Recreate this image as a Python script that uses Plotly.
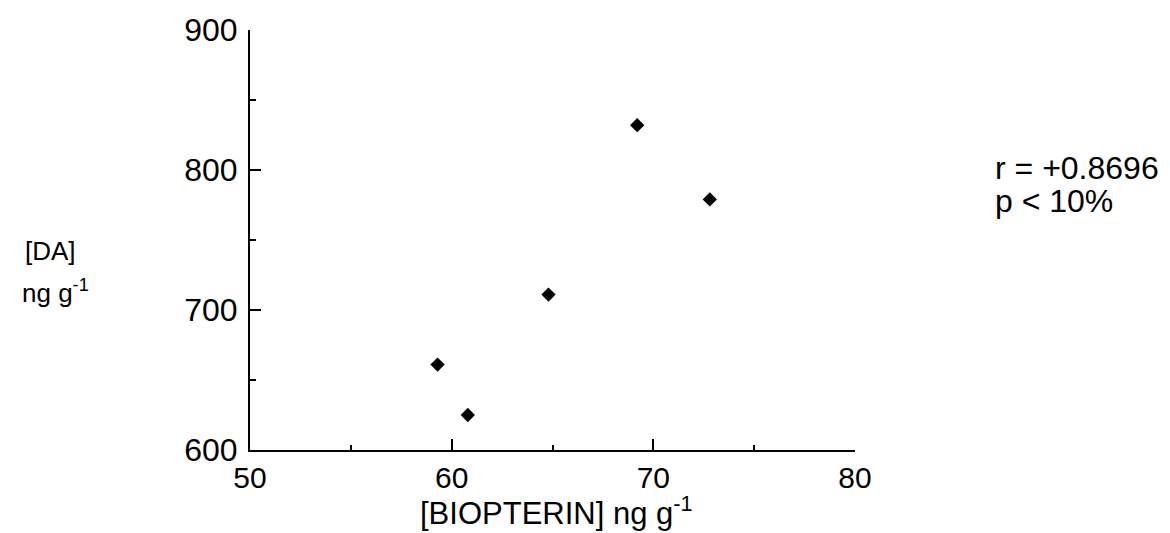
import plotly.graph_objects as go

biopterin = [69.2, 72.8, 64.8, 59.3, 60.8]
da = [832, 779, 711, 661, 625]

x_ticks = [50, 60, 70, 80]
y_ticks = [600, 700, 800, 900]

FONT = "Liberation Sans, Arial, sans-serif"

W, H = 1170, 533
PLOT_L, PLOT_R, PLOT_T, PLOT_B = 250, 855, 25, 450
L, T, R, B = PLOT_L, PLOT_T, W - PLOT_R, H - PLOT_B
pw, ph = W - L - R, H - T - B

fig = go.Figure()
fig.add_trace(go.Scatter(
    x=biopterin, y=da, mode="markers",
    marker=dict(symbol="diamond", size=11, color="black"),
    showlegend=False,
))

axis_common = dict(
    showline=True, linecolor="black", linewidth=2,
    showgrid=False, zeroline=False,
    ticks="inside", ticklen=11, tickwidth=2, tickcolor="black",
    ticklabeloverflow="allow",
)

fig.update_xaxes(
    range=[50, 80], tickvals=x_ticks, ticktext=[str(v) for v in x_ticks],
    minor=dict(ticks="inside", ticklen=5, tickwidth=2, tickcolor="black", dtick=5, tick0=50),
    ticklabelstandoff=0,
    tickfont=dict(family=FONT, size=30, color="black"),
    **axis_common,
)
fig.update_yaxes(
    range=[600, 900], tickvals=y_ticks, ticktext=[str(v) for v in y_ticks],
    minor=dict(ticks="inside", ticklen=6, tickwidth=2, tickcolor="black", dtick=50, tick0=600),
    ticklabelstandoff=4,
    tickfont=dict(family=FONT, size=32, color="black"),
    **axis_common,
)

# (text, page x, page y, anchor, font size)
annotations = [
    ("[BIOPTERIN] ng g<sup>-1</sup>", 556, 512, "center", 31),
    ("[DA]", 50, 249, "center", 26),
    ("ng g<sup>-1</sup>", 55, 290, "center", 26),
    ("r = +0.8696", 993, 165, "left", 32),
    ("p < 10%", 993, 198, "left", 32),
]
for text, px, py, anchor, size in annotations:
    fig.add_annotation(
        text=text, xref="paper", yref="paper",
        x=(px - PLOT_L) / pw, y=1 - (py - PLOT_T) / ph,
        xanchor=anchor, yanchor="middle", showarrow=False,
        font=dict(family=FONT, size=size, color="black"),
    )

fig.update_layout(
    width=W, height=H,
    margin=dict(l=L, r=R, t=T, b=B),
    plot_bgcolor="white", paper_bgcolor="white",
)

fig.write_html(
    "out.html",
    config={"displayModeBar": False},
    post_script="document.body.style.margin='0';document.body.style.overflow='hidden';",
)
